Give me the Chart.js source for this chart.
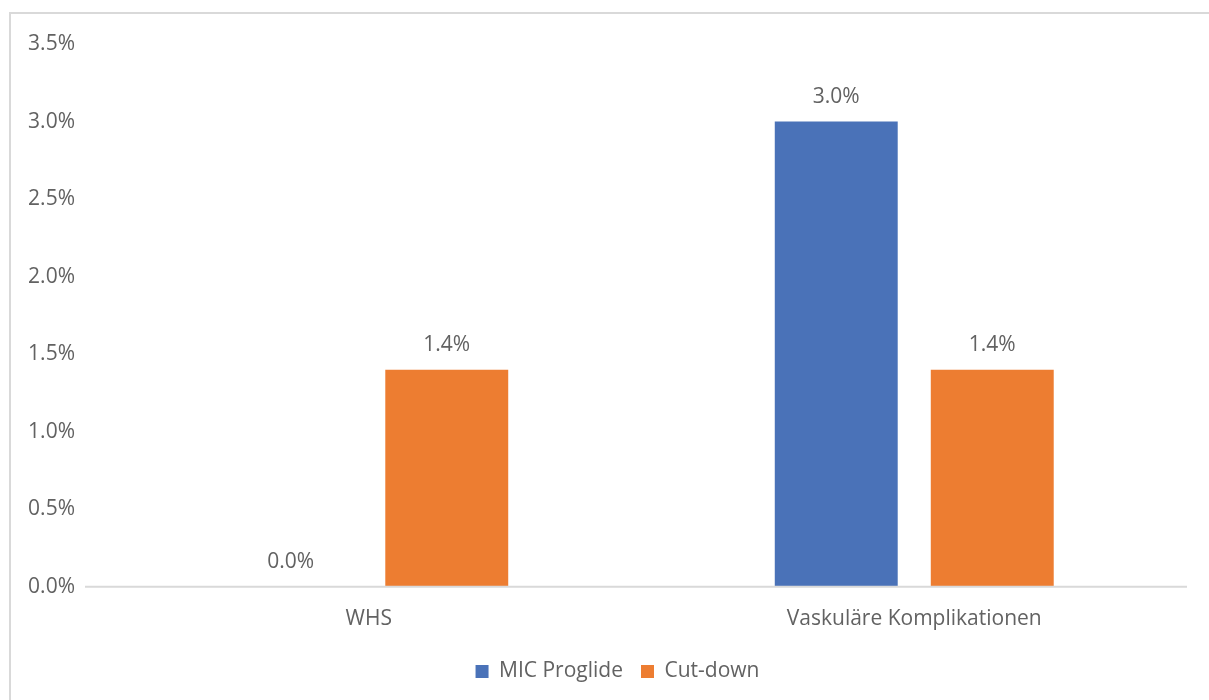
<!DOCTYPE html>
<html>
<head>
<meta charset="utf-8">
<script src="https://cdn.jsdelivr.net/npm/chart.js@4"></script>
<style>
    body { margin: 0; background: #fff; overflow: hidden; }
    #frame {
        position: absolute; left: 9px; top: 12px; width: 1400px; height: 900px;
        border-left: 2px solid #d9d9d9; border-top: 2px solid #d9d9d9;
    }
    #wrap { position: absolute; left: 0; top: 0; width: 1209px; height: 700px; }
</style>
</head>
<body>
<div id="frame"></div>
<div id="wrap"><canvas id="myChart"></canvas></div>
<script>
const categories = ['WHS', 'Vaskuläre Komplikationen'];
const micProglide = [0.0, 3.0];
const cutDown = [1.4, 1.4];
const seriesNames = ['MIC Proglide', 'Cut-down'];
const yMax = 3.5;
const yStep = 0.5;

const textColor = '#626262';
const fontFamily = '"Open Sans", "Noto Sans", sans-serif';
const fontSize = 21;

// Werte über den Balken
const valueLabels = {
    id: 'valueLabels',
    afterDatasetsDraw(chart) {
        const ctx = chart.ctx;
        ctx.save();
        ctx.font = fontSize + 'px ' + fontFamily;
        ctx.fillStyle = textColor;
        ctx.textAlign = 'center';
        ctx.textBaseline = 'middle';
        chart.data.datasets.forEach((ds, di) => {
            chart.getDatasetMeta(di).data.forEach((bar, i) => {
                ctx.fillText(ds.data[i].toFixed(1) + '%', bar.x, bar.y - 25);
            });
        });
        ctx.restore();
    }
};

// Grundlinie wie in Excel etwas nach links verlängert
const baseLine = {
    id: 'baseLine',
    afterDraw(chart) {
        const ctx = chart.ctx;
        const y = chart.scales.y.getPixelForValue(0);
        ctx.save();
        ctx.strokeStyle = '#d9d9d9';
        ctx.lineWidth = 2;
        ctx.beginPath();
        ctx.moveTo(85, y);
        ctx.lineTo(chart.chartArea.right, y);
        ctx.stroke();
        ctx.restore();
    }
};

// Legende etwas nach rechts, mittig im Rahmen
const legendShift = {
    id: 'legendShift',
    afterLayout(chart) {
        chart.legend.left += 12;
        chart.legend.right += 12;
    }
};

const ctx = document.getElementById('myChart').getContext('2d');
new Chart(ctx, {
    type: 'bar',
    data: {
        labels: categories,
        datasets: [
            {
                label: seriesNames[0],
                data: micProglide,
                backgroundColor: '#4A72B8',
                categoryPercentage: 0.572,
                barPercentage: 0.788
            },
            {
                label: seriesNames[1],
                data: cutDown,
                backgroundColor: '#ED7D31',
                categoryPercentage: 0.572,
                barPercentage: 0.788
            }
        ]
    },
    options: {
        responsive: true,
        maintainAspectRatio: false,
        animation: false,
        layout: {
            padding: { left: 24, right: 22, top: 44, bottom: 8 }
        },
        plugins: {
            legend: {
                position: 'bottom',
                labels: {
                    boxWidth: 13,
                    boxHeight: 13,
                    padding: 18,
                    color: textColor,
                    font: { family: fontFamily, size: fontSize }
                }
            },
            tooltip: { enabled: false }
        },
        scales: {
            y: {
                min: 0,
                max: yMax,
                ticks: {
                    stepSize: yStep,
                    padding: 13,
                    color: textColor,
                    font: { family: fontFamily, size: fontSize },
                    callback: v => v.toFixed(1) + '%'
                },
                grid: { display: false },
                border: { display: false },
                afterFit: scale => { scale.width = 72; }
            },
            x: {
                ticks: {
                    padding: 12,
                    color: textColor,
                    font: { family: fontFamily, size: fontSize }
                },
                grid: { display: false },
                border: { display: false },
                afterFit: scale => { scale.height -= 1; }
            }
        }
    },
    plugins: [valueLabels, baseLine, legendShift]
});
</script>
</body>
</html>
